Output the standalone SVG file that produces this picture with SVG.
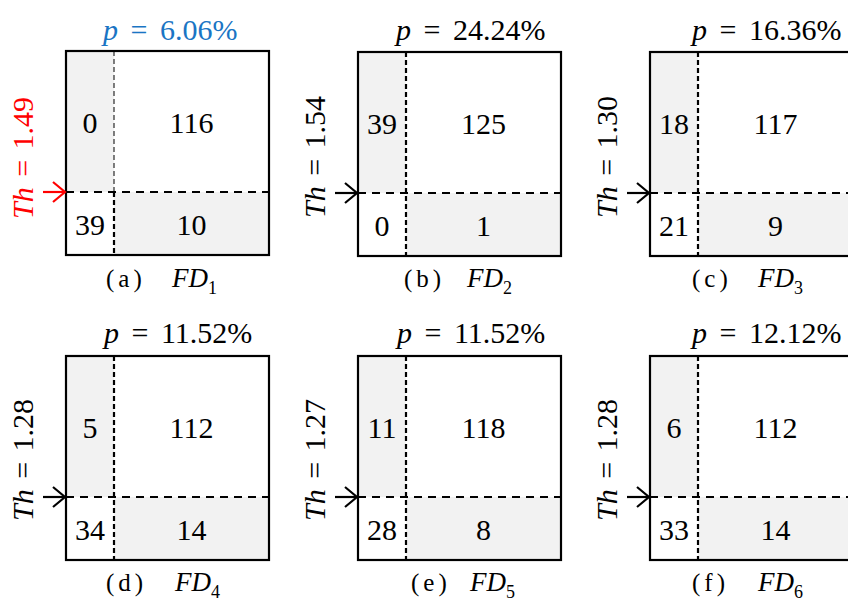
<svg xmlns="http://www.w3.org/2000/svg" width="848" height="601" viewBox="0 0 848 601">
<style>
text{font-family:"Liberation Serif","DejaVu Serif",serif;fill:#000}
.num{font-size:30px;text-anchor:middle}
.pl{font-size:30px}
.th{font-size:30px;text-anchor:middle}
.cap{font-size:25px;letter-spacing:4px}
.fd{font-size:27px;font-style:italic}
.it{font-style:italic}
.sub{font-size:18px;font-style:normal}
.gray{fill:#f2f2f2}
.box{fill:none;stroke:#000;stroke-width:2.2}
.hd{stroke:#000;stroke-width:2.2;stroke-dasharray:8 6;fill:none}
.vd{stroke:#000;stroke-width:2.2;stroke-dasharray:5 3;fill:none}
.vthin{stroke:#000;stroke-width:1;stroke-dasharray:5 3;fill:none}
.arr{fill:none;stroke:#000;stroke-width:2.2}
.red{stroke:#ff0000}
</style>
<defs>
<g id="cell">
<rect class="gray" x="0" y="0" width="48" height="141"/>
<rect class="gray" x="48" y="141" width="155" height="63"/>
</g>
</defs>

<g id="panel-a" transform="translate(66,51)">
<use href="#cell"/>
<line class="vthin" x1="48" y1="0" x2="48" y2="141"/>
<line class="vd" x1="48" y1="141" x2="48" y2="204"/>
<line class="hd" x1="0" y1="141" x2="203" y2="141"/>
<rect class="box" x="0" y="0" width="203" height="204"/>
<text class="num" x="24" y="82">0</text>
<text class="num" x="125.5" y="82">116</text>
<text class="num" x="24" y="184">39</text>
<text class="num" x="125.5" y="184">10</text>
<text class="pl" x="37" y="-11" style="fill:#1a75c4"><tspan class="it">p</tspan><tspan dx="5"> =</tspan><tspan dx="5"> 6.06%</tspan></text>
<text class="th" transform="translate(-33,107) rotate(-90)" style="fill:#ff0000"><tspan class="it">Th</tspan><tspan dx="3"> =</tspan><tspan dx="3"> 1.49</tspan></text>
<text class="cap" x="40" y="236">(a)</text>
<text class="fd" x="106" y="236">FD<tspan class="sub" dy="7">1</tspan></text>
</g>

<g id="panel-b" transform="translate(358,52)">
<use href="#cell"/>
<line class="vd" x1="48" y1="0" x2="48" y2="204"/>
<line class="hd" x1="0" y1="141" x2="203" y2="141"/>
<rect class="box" x="0" y="0" width="203" height="204"/>
<text class="num" x="24" y="82">39</text>
<text class="num" x="125.5" y="82">125</text>
<text class="num" x="24" y="184">0</text>
<text class="num" x="125.5" y="184">1</text>
<text class="pl" x="38" y="-12"><tspan class="it">p</tspan><tspan dx="5"> =</tspan><tspan dx="5"> 24.24%</tspan></text>
<text class="th" transform="translate(-33,105) rotate(-90)"><tspan class="it">Th</tspan><tspan dx="3"> =</tspan><tspan dx="3"> 1.54</tspan></text>
<text class="cap" x="46" y="235">(b)</text>
<text class="fd" x="109" y="235">FD<tspan class="sub" dy="7">2</tspan></text>
</g>

<g id="panel-c" transform="translate(650,52)">
<use href="#cell"/>
<line class="vd" x1="48" y1="0" x2="48" y2="204"/>
<line class="hd" x1="0" y1="141" x2="203" y2="141"/>
<rect class="box" x="0" y="0" width="203" height="204"/>
<text class="num" x="24" y="82">18</text>
<text class="num" x="125.5" y="82">117</text>
<text class="num" x="24" y="184">21</text>
<text class="num" x="125.5" y="184">9</text>
<text class="pl" x="42" y="-12"><tspan class="it">p</tspan><tspan dx="5"> =</tspan><tspan dx="5"> 16.36%</tspan></text>
<text class="th" transform="translate(-33,105) rotate(-90)"><tspan class="it">Th</tspan><tspan dx="3"> =</tspan><tspan dx="3"> 1.30</tspan></text>
<text class="cap" x="42" y="235">(c)</text>
<text class="fd" x="108" y="235">FD<tspan class="sub" dy="7">3</tspan></text>
</g>

<g id="panel-d" transform="translate(66,356)">
<use href="#cell"/>
<line class="vd" x1="48" y1="0" x2="48" y2="204"/>
<line class="hd" x1="0" y1="141" x2="203" y2="141"/>
<rect class="box" x="0" y="0" width="203" height="204"/>
<text class="num" x="24" y="82">5</text>
<text class="num" x="125.5" y="82">112</text>
<text class="num" x="24" y="184">34</text>
<text class="num" x="125.5" y="184">14</text>
<text class="pl" x="38" y="-13"><tspan class="it">p</tspan><tspan dx="5"> =</tspan><tspan dx="5"> 11.52%</tspan></text>
<text class="th" transform="translate(-33,104) rotate(-90)"><tspan class="it">Th</tspan><tspan dx="3"> =</tspan><tspan dx="3"> 1.28</tspan></text>
<text class="cap" x="40" y="235">(d)</text>
<text class="fd" x="109" y="235">FD<tspan class="sub" dy="7">4</tspan></text>
</g>

<g id="panel-e" transform="translate(358,356)">
<use href="#cell"/>
<line class="vd" x1="48" y1="0" x2="48" y2="204"/>
<line class="hd" x1="0" y1="141" x2="203" y2="141"/>
<rect class="box" x="0" y="0" width="203" height="204"/>
<text class="num" x="24" y="82">11</text>
<text class="num" x="125.5" y="82">118</text>
<text class="num" x="24" y="184">28</text>
<text class="num" x="125.5" y="184">8</text>
<text class="pl" x="39" y="-13"><tspan class="it">p</tspan><tspan dx="5"> =</tspan><tspan dx="5"> 11.52%</tspan></text>
<text class="th" transform="translate(-33,104) rotate(-90)"><tspan class="it">Th</tspan><tspan dx="3"> =</tspan><tspan dx="3"> 1.27</tspan></text>
<text class="cap" x="53" y="235">(e)</text>
<text class="fd" x="112" y="235">FD<tspan class="sub" dy="7">5</tspan></text>
</g>

<g id="panel-f" transform="translate(650,356)">
<use href="#cell"/>
<line class="vd" x1="48" y1="0" x2="48" y2="204"/>
<line class="hd" x1="0" y1="141" x2="203" y2="141"/>
<rect class="box" x="0" y="0" width="203" height="204"/>
<text class="num" x="24" y="82">6</text>
<text class="num" x="125.5" y="82">112</text>
<text class="num" x="24" y="184">33</text>
<text class="num" x="125.5" y="184">14</text>
<text class="pl" x="42" y="-13"><tspan class="it">p</tspan><tspan dx="5"> =</tspan><tspan dx="5"> 12.12%</tspan></text>
<text class="th" transform="translate(-33,104) rotate(-90)"><tspan class="it">Th</tspan><tspan dx="3"> =</tspan><tspan dx="3"> 1.28</tspan></text>
<text class="cap" x="42" y="235">(f)</text>
<text class="fd" x="108" y="235">FD<tspan class="sub" dy="7">6</tspan></text>
</g>

<g id="connectors">
<g class="arr red">
<line x1="43" y1="192" x2="65" y2="192"/>
<polyline points="53,182 65,192 53,202"/>
</g>
<g class="arr">
<line x1="335" y1="193" x2="357" y2="193"/>
<polyline points="345,183 357,193 345,203"/>
<line x1="627" y1="193" x2="649" y2="193"/>
<polyline points="637,183 649,193 637,203"/>
<line x1="43" y1="497" x2="65" y2="497"/>
<polyline points="53,487 65,497 53,507"/>
<line x1="335" y1="497" x2="357" y2="497"/>
<polyline points="345,487 357,497 345,507"/>
<line x1="627" y1="497" x2="649" y2="497"/>
<polyline points="637,487 649,497 637,507"/>
</g>
</g>
</svg>
